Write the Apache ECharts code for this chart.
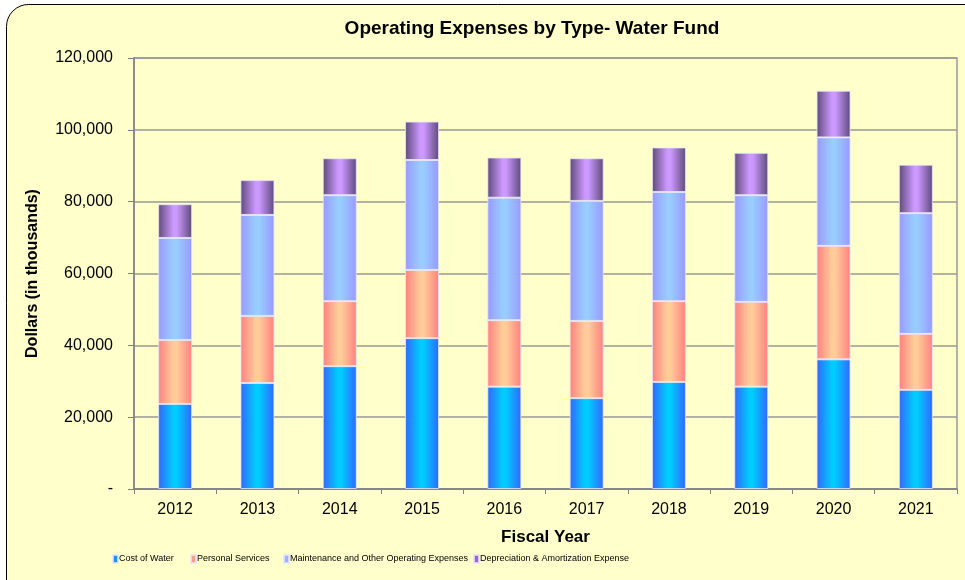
<!DOCTYPE html>
<html>
<head>
<meta charset="utf-8">
<script src="https://cdn.jsdelivr.net/npm/echarts@6/dist/echarts.min.js"></script>
<style>
  html, body { margin: 0; padding: 0; background: #fff; }
  #main { width: 965px; height: 580px; }
</style>
</head>
<body>
<div id="main"></div>
<script>
// fiscal years and expense values (dollars in thousands)
var years = ['2012', '2013', '2014', '2015', '2016', '2017', '2018', '2019', '2020', '2021'];
var costOfWater = [23700, 29500, 34200, 42000, 28500, 25300, 29800, 28500, 36100, 27600];
var personalServices = [17800, 18700, 18100, 19000, 18500, 21500, 22500, 23600, 31600, 15600];
var maintenance = [28400, 28100, 29500, 30600, 34100, 33400, 30400, 29700, 30200, 33600];
var depreciation = [9400, 9700, 10300, 10700, 11200, 11900, 12400, 11800, 13000, 13500];
var yTicks = [0, 20000, 40000, 60000, 80000, 100000, 120000];

var font = '"Liberation Sans", Arial, sans-serif';

function grad(edge, mid) {
  return new echarts.graphic.LinearGradient(0, 0, 1, 0, [
    {offset: 0, color: edge},
    {offset: 0.45, color: mid},
    {offset: 0.55, color: mid},
    {offset: 1, color: edge}
  ]);
}

var seriesDefs = [
  {name: 'Cost of Water', data: costOfWater, fill: grad('#3366FF', '#00CCFF'), key: '#1E90FF', left: 112},
  {name: 'Personal Services', data: personalServices, fill: grad('#FF8080', '#FFCC99'), key: '#FF9F86', left: 190},
  {name: 'Maintenance and Other Operating Expenses', data: maintenance, fill: grad('#9999FF', '#99CCFF'), key: '#99B3FF', left: 283},
  {name: 'Depreciation & Amortization Expense', data: depreciation, fill: grad('#5E4A7A', '#CC99FF'), key: '#9966CC', left: 473}
];

// one legend per item so each key sits where the original puts it
var legends = seriesDefs.map(function (s) {
  return {
    left: s.left,
    top: 554,
    padding: 0,
    icon: 'rect',
    itemWidth: 5,
    itemHeight: 8,
    selectedMode: false,
    data: [{name: s.name, itemStyle: {color: s.key}}],
    textStyle: {fontFamily: font, fontSize: 9, color: '#000', padding: [0, 0, 0, -4]}
  };
});

var series = seriesDefs.map(function (s) {
  return {
    name: s.name,
    type: 'bar',
    stack: 'total',
    barWidth: 34,
    data: s.data,
    itemStyle: {color: s.fill, borderColor: 'rgba(230,230,250,0.8)', borderWidth: 1}
  };
});

var option = {
  animation: false,
  graphic: [{
    type: 'rect',
    z: -10,
    shape: {x: 6.5, y: 4.5, width: 1000, height: 600, r: 22},
    style: {fill: '#FFFFCC', stroke: '#000', lineWidth: 1}
  }],
  title: {
    text: 'Operating Expenses by Type- Water Fund',
    left: 527,
    textAlign: 'center',
    top: 14,
    textStyle: {fontFamily: font, fontSize: 19, fontWeight: 'bold', color: '#000'}
  },
  legend: legends,
  grid: {
    left: 134, right: 8, top: 58, bottom: 91,
    show: true, borderColor: '#999', borderWidth: 1.5, backgroundColor: 'transparent'
  },
  xAxis: {
    type: 'category',
    data: years,
    name: 'Fiscal Year',
    nameLocation: 'middle',
    nameGap: 40,
    nameTextStyle: {fontFamily: font, fontSize: 17, fontWeight: 'bold', color: '#000'},
    axisLine: {lineStyle: {color: '#808080', width: 1.5}},
    axisTick: {show: true, length: 5, lineStyle: {color: '#808080'}},
    axisLabel: {fontFamily: font, fontSize: 16, color: '#000', margin: 13}
  },
  yAxis: {
    type: 'value',
    min: yTicks[0],
    max: yTicks[yTicks.length - 1],
    interval: 20000,
    name: 'Dollars (in thousands)',
    nameLocation: 'middle',
    nameRotate: 90,
    nameGap: 93,
    nameTextStyle: {fontFamily: font, fontSize: 16, fontWeight: 'bold', color: '#000'},
    axisLine: {show: true, lineStyle: {color: '#808080', width: 1.5}},
    axisTick: {show: true, length: 6, lineStyle: {color: '#808080'}},
    axisLabel: {
      fontFamily: font, fontSize: 16, color: '#000', margin: 21,
      formatter: function (v) { return v === 0 ? '-' : v.toLocaleString('en-US'); }
    },
    splitLine: {lineStyle: {color: '#999', width: 1.5}}
  },
  series: series
};

var chart = echarts.init(document.getElementById('main'));
chart.setOption(option);
</script>
</body>
</html>
